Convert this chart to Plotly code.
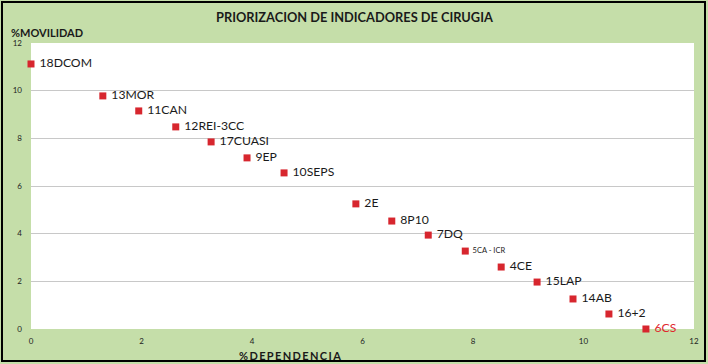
import plotly.graph_objects as go

labels = ["18DCOM", "13MOR", "11CAN", "12REI-3CC", "17CUASI", "9EP", "10SEPS", "2E",
          "8P10", "7DQ", "5CA - ICR", "4CE", "15LAP", "14AB", "16+2", "6CS"]
dependencia = [0.0, 1.30, 1.95, 2.62, 3.26, 3.91, 4.58, 5.88,
               6.53, 7.19, 7.86, 8.51, 9.16, 9.81, 10.46, 11.13]
movilidad = [11.12, 9.78, 9.15, 8.48, 7.85, 7.18, 6.55, 5.25,
             4.53, 3.94, 3.27, 2.60, 1.97, 1.26, 0.63, 0.0]
x_ticks = [0, 2, 4, 6, 8, 10, 12]
y_ticks = [0, 2, 4, 6, 8, 10, 12]

W, H = 708, 364
ml, mr, mt, mb = 31, 14, 43, 35
pw, ph = W - ml - mr, H - mt - mb
FONT = "Lato, Open Sans, sans-serif"


def px_x(p):
    return (p - ml) / pw


def px_y(p):
    return (mt + ph - p) / ph


sizes = [12.2] * len(labels)
colors = ["#1a1a1a"] * len(labels)
sizes[labels.index("5CA - ICR")] = 7.5
colors[labels.index("6CS")] = "#e0262c"

fig = go.Figure(go.Scatter(
    x=dependencia, y=movilidad, mode="markers+text",
    text=[" " + t for t in labels], textposition="middle right",
    textfont=dict(family=FONT, size=sizes, color=colors),
    marker=dict(symbol="square", size=7, color="#d7262e"),
    cliponaxis=False, showlegend=False, hoverinfo="skip",
))

green = "#c5dea9"
fig.update_layout(
    width=W, height=H,
    margin=dict(l=ml, r=mr, t=mt, b=mb),
    paper_bgcolor=green, plot_bgcolor="white",
    xaxis=dict(range=[0, 12], tickvals=x_ticks, showgrid=False, zeroline=False,
               ticks="", tickfont=dict(family=FONT, size=8, color="#222"),
               showline=False, ticklabelstandoff=6, automargin=False, fixedrange=True),
    yaxis=dict(range=[0, 12], tickvals=y_ticks, showgrid=True, gridcolor="#c8c8c8",
               gridwidth=1, zeroline=False, ticks="",
               tickfont=dict(family=FONT, size=8, color="#222"),
               showline=False, ticklabelstandoff=8, automargin=False, fixedrange=True),
    annotations=[
        dict(text="<b>PRIORIZACION DE INDICADORES DE CIRUGIA</b>", xref="paper", yref="paper",
             x=px_x(354), y=px_y(17), showarrow=False,
             font=dict(family=FONT, size=12.8, color="#1a1a1a"),
             xanchor="center", yanchor="middle"),
        dict(text="<b>%MOVILIDAD</b>", xref="paper", yref="paper",
             x=px_x(9), y=px_y(33), showarrow=False,
             font=dict(family=FONT, size=11, color="#1a1a1a"),
             xanchor="left", yanchor="middle"),
        dict(text="<b>%\u2009D\u2009E\u2009P\u2009E\u2009N\u2009D\u2009E\u2009N\u2009C\u2009I\u2009A</b>",
             xref="paper", yref="paper",
             x=px_x(290), y=px_y(355), showarrow=False,
             font=dict(family=FONT, size=11, color="#1a1a1a"),
             xanchor="center", yanchor="middle"),
    ],
    shapes=[
        dict(type="rect", xref="paper", yref="paper",
             x0=px_x(2), x1=px_x(705), y0=px_y(361), y1=px_y(2),
             line=dict(color="black", width=2), fillcolor="rgba(0,0,0,0)", layer="above"),
    ],
)
fig.write_html("out.html", config={"displayModeBar": False},
               post_script="document.body.style.margin='0';")
